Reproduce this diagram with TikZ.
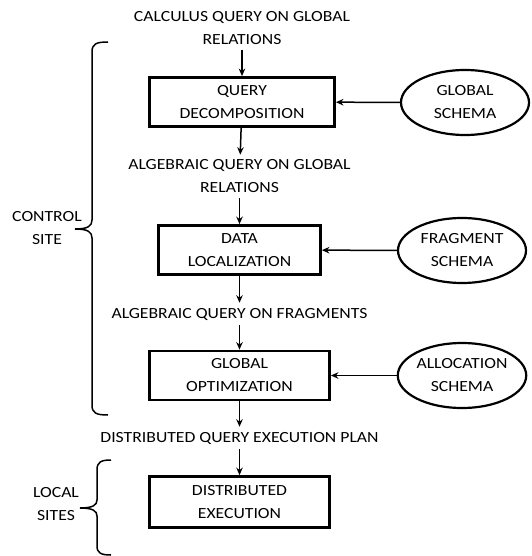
\documentclass[tikz,border=0pt]{standalone}
\usepackage{fontspec}
\setmainfont{Carlito}[FakeStretch=1.14]
\usetikzlibrary{shapes.geometric,arrows.meta}
\begin{document}
\begin{tikzpicture}[x=1pt,y=-1pt,
  every node/.style={font=\fontsize{15.5}{23}\selectfont, align=center},
  stage/.style={draw, line width=2.8pt, inner sep=0pt, minimum height=49pt},
  schema/.style={draw, ellipse, line width=2.2pt, inner sep=0pt,
                 minimum width=128pt, minimum height=65pt},
  msg/.style={inner xsep=0pt, inner ysep=5pt},
  flow/.style={line width=1.5pt, -{Stealth[length=7.5pt,width=6.5pt]}},
  brace/.style={line width=1.5pt}]
\useasboundingbox (0,0) rectangle (531,556);

% processing stages
\node[stage, minimum width=185pt] (qd) at (242,102) {QUERY\\DECOMPOSITION};
\node[stage, minimum width=162pt] (dl) at (239.5,250) {DATA\\LOCALIZATION};
\node[stage, minimum width=180pt] (go) at (239.5,375.5) {GLOBAL\\OPTIMIZATION};
\node[stage, minimum width=180pt, minimum height=51pt] (de) at (239.5,502) {DISTRIBUTED\\EXECUTION};

% intermediate query forms
\node[msg] (t1) at (242,28.5) {CALCULUS QUERY ON GLOBAL\\RELATIONS};
\node[msg] (t2) at (239.5,176.5) {ALGEBRAIC QUERY ON GLOBAL\\RELATIONS};
\node[msg] (t3) at (239.5,314) {ALGEBRAIC QUERY ON FRAGMENTS};
\node[msg] (t4) at (239.5,438) {DISTRIBUTED QUERY EXECUTION PLAN};

% schemas
\node[schema] (gs) at (465,102.5) {GLOBAL\\SCHEMA};
\node[schema] (fs) at (462,250.5) {FRAGMENT\\SCHEMA};
\node[schema] (as) at (462,375.5) {ALLOCATION\\SCHEMA};

% flow
\draw[flow] (t1) -- (qd);
\draw[flow] (qd) -- (t2);
\draw[flow] (t2) -- (dl);
\draw[flow] (dl) -- (t3);
\draw[flow] (t3) -- (go);
\draw[flow] (go) -- (t4);
\draw[flow] (t4) -- (de);
\draw[flow] (gs) -- (qd);
\draw[flow] (fs) -- (dl);
\draw[flow] (as) -- (go);

% site braces
\draw[brace] (108,42) .. controls (96,42) and (92,44) .. (92,52)
  -- (92,220) .. controls (92,226) and (88,229) .. (75,229)
  .. controls (88,229) and (92,232) .. (92,238)
  -- (92,405) .. controls (92,413) and (96,415) .. (108,415);
\node (cs) at (47,228.5) {CONTROL\\SITE};

\draw[brace] (111,460) .. controls (101,460) and (97,462) .. (97,470)
  -- (97,500) .. controls (97,505) and (93,508) .. (80,508)
  .. controls (93,508) and (97,511) .. (97,516)
  -- (97,546) .. controls (97,553) and (101,555) .. (111,555);
\node (ls) at (56,504.5) {LOCAL\\SITES};
\end{tikzpicture}
\end{document}
